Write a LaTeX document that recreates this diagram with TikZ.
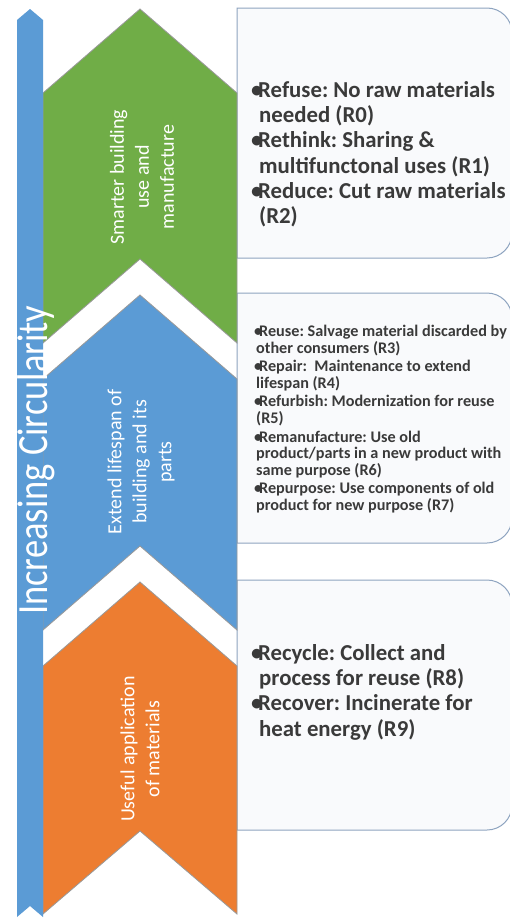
\documentclass[tikz,border=0pt]{standalone}
\usepackage{fontspec}
\setmainfont{Carlito}
\definecolor{cblue}{HTML}{5B9BD5}
\definecolor{cgreen}{HTML}{70AD47}
\definecolor{corange}{HTML}{ED7D31}
\definecolor{boxline}{HTML}{8EA4C0}
\definecolor{boxfill}{HTML}{F9FAFC}
\definecolor{txt}{HTML}{3A3A3A}
\newcommand{\bul}[1]{\makebox[#1][l]{•}}
\begin{document}
\begin{tikzpicture}[x=1pt,y=-1pt,
  chev/.style={draw=black!40,line width=0.8pt,line join=miter},
  rbox/.style={draw=boxline,fill=boxfill,line width=1pt},
  clabel/.style={rotate=90,text=white,align=center,font=\fontsize{20}{25}\selectfont,inner sep=0pt},
  bigtext/.style={align=left,text=txt,font=\bfseries\frenchspacing\fontsize{22.8}{25.3}\selectfont,inner sep=0pt,anchor=north west},
  smalltext/.style={align=left,text=txt,font=\bfseries\frenchspacing\fontsize{16.2}{16.6}\selectfont,inner sep=0pt,anchor=north west}]
\useasboundingbox (0,0) rectangle (510,918);
\fill[white] (0,0) rectangle (510,918);
% right boxes
\draw[rbox] (237,8) -- (400,8) [rounded corners=25pt] -- (512,8) -- (512,258) -- (400,258) [sharp corners] -- (237,258) -- cycle;
\draw[rbox] (237,293) -- (400,293) [rounded corners=25pt] -- (512,293) -- (512,543) -- (400,543) [sharp corners] -- (237,543) -- cycle;
\draw[rbox] (237,580) -- (400,580) [rounded corners=25pt] -- (512,580) -- (512,830) -- (400,830) [sharp corners] -- (237,830) -- cycle;
% chevrons
\draw[chev,fill=cgreen] (43,93) -- (140,9) -- (237,93) -- (237,343) -- (140,259) -- (43,343) -- cycle;
\draw[chev,fill=cblue] (43,379) -- (140,295) -- (237,379) -- (237,630) -- (140,546) -- (43,630) -- cycle;
\draw[chev,fill=corange] (43,666) -- (140,582) -- (237,666) -- (237,914) -- (140,831) -- (43,914) -- cycle;
% left bar
\fill[cblue] (17,20) -- (30,9) -- (43,20) -- (43,917) -- (30,906) -- (17,917) -- cycle;
% labels
\node[clabel] (l1) at (142,177) {Smarter building\\use and\\manufacture};
\node[clabel] (l2) at (141,462) {Extend lifespan of\\building and its\\parts};
\node[clabel] (l3) at (140,749) {Useful application\\of materials};
\node[rotate=90,anchor=base west,text=white,inner sep=0pt,font=\fontsize{36.5}{44}\selectfont] (inc) at (47,615) {\scalebox{1}[1.18]{Increasing Circularity}};
% box texts
\node[bigtext] (t1) at (251,81) {\bul{7pt}Refuse: No raw materials\\\hspace*{8pt}needed (R0)\\\bul{7pt}Rethink: Sharing \&\\\hspace*{8pt}multifunctonal uses (R1)\\\bul{7pt}Reduce: Cut raw materials\\\hspace*{8pt}(R2)};
\node[smalltext] (t2) at (254,325) {\bul{5pt}Reuse: Salvage material discarded by\\\hspace*{2pt}other consumers (R3)\\[2pt]\bul{5pt}Repair:\ \ Maintenance to extend\\\hspace*{2pt}lifespan (R4)\\[2pt]\bul{5pt}Refurbish: Modernization for reuse\\\hspace*{2pt}(R5)\\[2pt]\bul{5pt}Remanufacture: Use old\\\hspace*{2pt}product/parts in a new product with\\\hspace*{2pt}same purpose (R6)\\[2pt]\bul{5pt}Repurpose: Use components of old\\\hspace*{2pt}product for new purpose (R7)};
\node[bigtext] (t3) at (251,644) {\bul{7pt}Recycle: Collect and\\\hspace*{8pt}process for reuse (R8)\\\bul{7pt}Recover: Incinerate for\\\hspace*{8pt}heat energy (R9)};
\end{tikzpicture}
\end{document}
